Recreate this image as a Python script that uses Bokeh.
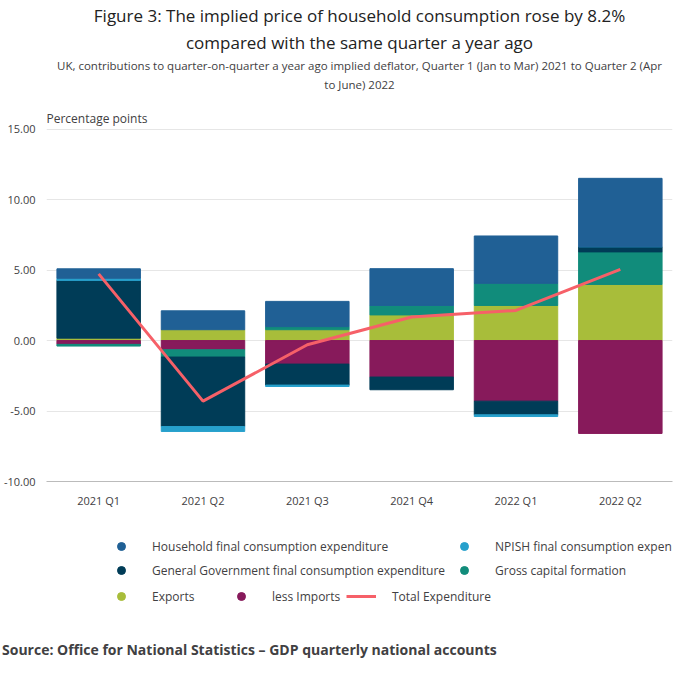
from bokeh.plotting import figure
from bokeh.models import Title, Legend, LegendItem, Label, ColumnDataSource, NumeralTickFormatter, FixedTicker, Div, Range1d
from bokeh.layouts import column
from bokeh.embed import file_html
from bokeh.resources import INLINE

quarters = ["2021 Q1", "2021 Q2", "2021 Q3", "2021 Q4", "2022 Q1", "2022 Q2"]
household = [0.67, 1.34, 1.79, 2.61, 3.36, 4.85]
npish = [0.15, -0.35, -0.10, 0.0, -0.12, 0.0]
government = [4.10, -4.93, -1.49, -0.90, -0.97, 0.37]
gcf = [-0.12, -0.52, 0.22, 0.67, 1.57, 2.31]
exports = [0.17, 0.77, 0.77, 1.82, 2.49, 3.98]
imports = [-0.27, -0.65, -1.67, -2.59, -4.30, -6.59]
total = [4.73, -4.30, -0.30, 1.67, 2.14, 5.05]

names = ["Household final consumption expenditure", "NPISH final consumption expenditure",
         "General Government final consumption expenditure", "Gross capital formation",
         "Exports", "less Imports"]
colors = {"hh": "#206095", "np": "#27a0cc", "gg": "#003c57", "gcf": "#118c7b", "ex": "#a8bd3a", "im": "#871a5b"}

p = figure(x_range=quarters, y_range=(-10, 17.6), width=684, height=510,
           output_backend="svg", toolbar_location=None, min_border_left=10, min_border_right=12,
           min_border_bottom=5)
p.title.visible = False

order = [("ex", exports), ("im", imports), ("gcf", gcf), ("gg", government), ("np", npish), ("hh", household)]
pos = [0.0] * 6
neg = [0.0] * 6
for key, vals in order:
    tops, bots = [], []
    for i, v in enumerate(vals):
        if v >= 0:
            bots.append(pos[i]); pos[i] += v; tops.append(pos[i])
        else:
            tops.append(neg[i]); neg[i] += v; bots.append(neg[i])
    src = ColumnDataSource(dict(x=quarters, top=tops, bottom=bots))
    p.vbar(x="x", top="top", bottom="bottom", width=0.8, color=colors[key], source=src)

p.line(x=quarters, y=total, line_color="#f66068", line_width=3)

for t in ["to June) 2022",
          "UK, contributions to quarter-on-quarter a year ago implied deflator, Quarter 1 (Jan to Mar) 2021 to Quarter 2 (Apr",
          "compared with the same quarter a year ago",
          "Figure 3: The implied price of household consumption rose by 8.2%"]:
    big = t.startswith("Figure") or t.startswith("compared")
    p.add_layout(Title(text=t, align="center", text_font="Open Sans",
                       text_font_size="17px" if big else "11.5px", text_font_style="normal",
                       text_color="#222222" if big else "#414042", standoff=2), "above")

p.add_layout(Label(x=0, y=15.15, x_units="screen", text="Percentage points", text_font="Open Sans",
                   text_font_size="12px", text_color="#414042"))

p.yaxis.ticker = FixedTicker(ticks=[-10, -5, 0, 5, 10, 15])
p.yaxis.formatter = NumeralTickFormatter(format="0.00")
for ax in (p.xaxis, p.yaxis):
    ax.major_label_text_font = "Open Sans"
    ax.major_label_text_font_size = "11px"
    ax.major_label_text_color = "#414042"
p.yaxis.axis_line_color = None
p.yaxis.major_tick_line_color = None
p.yaxis.minor_tick_line_color = None
p.xaxis.axis_line_color = "#bbbbbb"
p.xaxis.major_tick_line_color = None
p.xgrid.grid_line_color = None
p.ygrid.grid_line_color = "#e6e6e6"
p.outline_line_color = None

# legend figure
q = figure(width=684, height=100, output_backend="svg", toolbar_location=None,
           x_range=Range1d(0, 1), y_range=Range1d(0, 1), min_border=0)
q.axis.visible = False
q.grid.visible = False
q.outline_line_color = None
q.title.visible = False
r = {k: q.scatter(x=[-5], y=[-5], size=12, color=c, marker="circle") for k, c in colors.items()}
rl = q.line(x=[-5, -6], y=[-5, -5], line_color="#f66068", line_width=3)

leg1 = Legend(items=[LegendItem(label=names[0], renderers=[r["hh"]]),
                     LegendItem(label=names[2], renderers=[r["gg"]]),
                     LegendItem(label=names[1], renderers=[r["np"]]),
                     LegendItem(label=names[3], renderers=[r["gcf"]])],
              ncols=2, location=(60, 30), glyph_width=30, label_width=264)
leg2 = Legend(items=[LegendItem(label=names[4], renderers=[r["ex"]]),
                     LegendItem(label=names[5], renderers=[r["im"]]),
                     LegendItem(label="Total Expenditure", renderers=[rl])],
              orientation="horizontal", location=(60, 4), glyph_width=30, label_width=70)
for lg in (leg1, leg2):
    lg.label_text_font = "Open Sans"
    lg.label_text_font_size = "12px"
    lg.label_text_color = "#414042"
    lg.border_line_color = None
    lg.background_fill_alpha = 0
    lg.spacing = 4
    lg.padding = 0
    lg.margin = 0
    lg.label_standoff = 16
    q.add_layout(lg, "center")

src_div = Div(text="<b>Source: Office for National Statistics \u2013 GDP quarterly national accounts</b>",
              styles={"font-family": "Open Sans", "font-size": "14px", "color": "#414042",
                      "margin-top": "30px", "margin-left": "2px"}, width=684)

layout = column(p, q, src_div)
open("out.html", "w").write(file_html(layout, INLINE))
